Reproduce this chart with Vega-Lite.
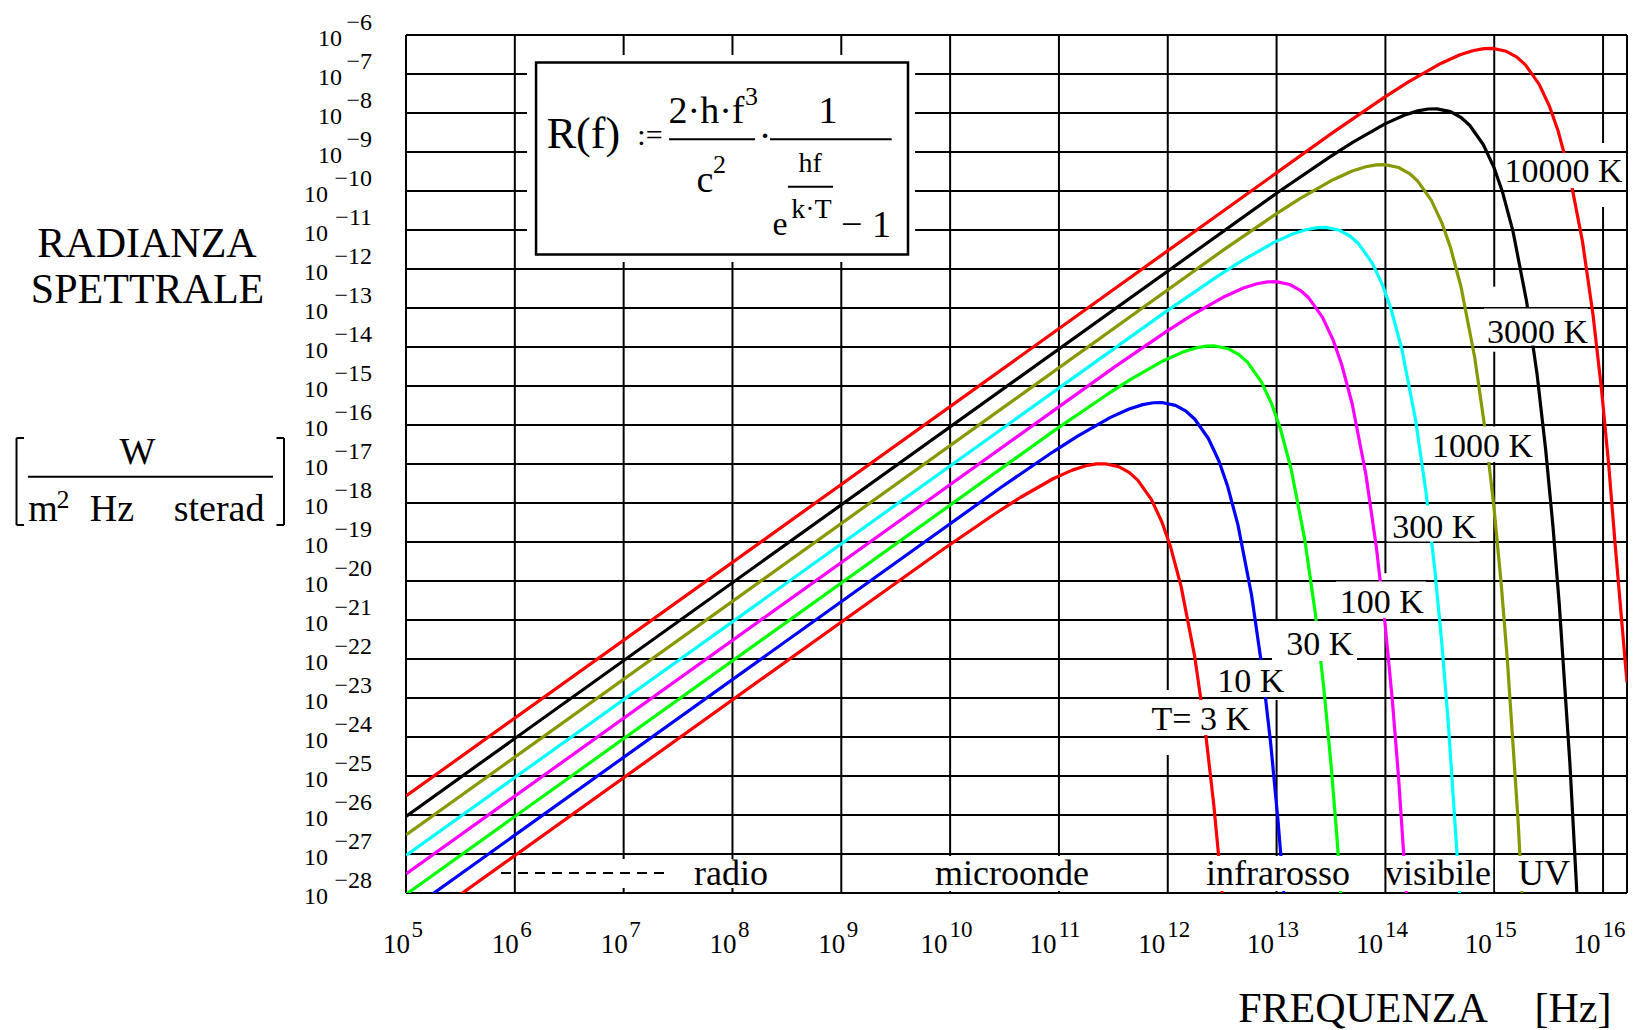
{
"$schema":"https://vega.github.io/schema/vega-lite/v6.json",
"width":1221,"height":858,
"autosize":{"type":"none"},
"padding":{"left":406,"top":35,"right":17,"bottom":137},
"background":"white",
"config":{"view":{"stroke":null},"text":{"font":"Liberation Serif","color":"black"}},
"datasets":{
"curves":[
{"T":3,"f":5,"R":-29.035},{"T":3,"f":9.946,"R":-19.165},{"T":3,"f":10.423,"R":-18.256},{"T":3,"f":10.645,"R":-17.859},{"T":3,"f":10.946,"R":-17.378},{"T":3,"f":11.122,"R":-17.157},{"T":3,"f":11.247,"R":-17.046},{"T":3,"f":11.344,"R":-16.998},{"T":3,"f":11.423,"R":-16.993},{"T":3,"f":11.548,"R":-17.066},{"T":3,"f":11.645,"R":-17.215},{"T":3,"f":11.724,"R":-17.414},{"T":3,"f":11.849,"R":-17.908},{"T":3,"f":11.946,"R":-18.486},{"T":3,"f":12.025,"R":-19.117},{"T":3,"f":12.122,"R":-20.130},{"T":3,"f":12.247,"R":-21.926},{"T":3,"f":12.344,"R":-23.807},{"T":3,"f":12.423,"R":-25.741},{"T":3,"f":12.490,"R":-27.711},{"T":3,"f":12.548,"R":-29.709},
{"T":10,"f":5,"R":-28.513},{"T":10,"f":10.469,"R":-17.597},{"T":10,"f":10.946,"R":-16.687},{"T":10,"f":11.168,"R":-16.290},{"T":10,"f":11.469,"R":-15.810},{"T":10,"f":11.645,"R":-15.588},{"T":10,"f":11.770,"R":-15.477},{"T":10,"f":11.867,"R":-15.429},{"T":10,"f":11.946,"R":-15.424},{"T":10,"f":12.071,"R":-15.498},{"T":10,"f":12.168,"R":-15.646},{"T":10,"f":12.247,"R":-15.845},{"T":10,"f":12.372,"R":-16.340},{"T":10,"f":12.469,"R":-16.918},{"T":10,"f":12.548,"R":-17.549},{"T":10,"f":12.645,"R":-18.561},{"T":10,"f":12.770,"R":-20.358},{"T":10,"f":12.867,"R":-22.238},{"T":10,"f":12.946,"R":-24.172},{"T":10,"f":13.013,"R":-26.143},{"T":10,"f":13.071,"R":-28.140},
{"T":30,"f":5,"R":-28.035},{"T":30,"f":10.956,"R":-16.145},{"T":30,"f":11.433,"R":-15.236},{"T":30,"f":11.655,"R":-14.839},{"T":30,"f":11.956,"R":-14.358},{"T":30,"f":12.132,"R":-14.137},{"T":30,"f":12.257,"R":-14.026},{"T":30,"f":12.354,"R":-13.978},{"T":30,"f":12.433,"R":-13.973},{"T":30,"f":12.558,"R":-14.046},{"T":30,"f":12.655,"R":-14.195},{"T":30,"f":12.734,"R":-14.394},{"T":30,"f":12.859,"R":-14.888},{"T":30,"f":12.956,"R":-15.466},{"T":30,"f":13.035,"R":-16.097},{"T":30,"f":13.132,"R":-17.110},{"T":30,"f":13.257,"R":-18.906},{"T":30,"f":13.354,"R":-20.787},{"T":30,"f":13.433,"R":-22.721},{"T":30,"f":13.500,"R":-24.691},{"T":30,"f":13.558,"R":-26.689},{"T":30,"f":13.655,"R":-30.741},
{"T":100,"f":5,"R":-27.513},{"T":100,"f":11.519,"R":-14.497},{"T":100,"f":11.996,"R":-13.587},{"T":100,"f":12.218,"R":-13.190},{"T":100,"f":12.519,"R":-12.710},{"T":100,"f":12.695,"R":-12.488},{"T":100,"f":12.820,"R":-12.377},{"T":100,"f":12.917,"R":-12.329},{"T":100,"f":12.996,"R":-12.324},{"T":100,"f":13.121,"R":-12.398},{"T":100,"f":13.218,"R":-12.546},{"T":100,"f":13.297,"R":-12.745},{"T":100,"f":13.422,"R":-13.240},{"T":100,"f":13.519,"R":-13.818},{"T":100,"f":13.598,"R":-14.449},{"T":100,"f":13.695,"R":-15.461},{"T":100,"f":13.820,"R":-17.258},{"T":100,"f":13.917,"R":-19.138},{"T":100,"f":13.996,"R":-21.072},{"T":100,"f":14.063,"R":-23.043},{"T":100,"f":14.121,"R":-25.040},{"T":100,"f":14.218,"R":-29.093},
{"T":300,"f":5,"R":-27.035},{"T":300,"f":11.976,"R":-13.105},{"T":300,"f":12.453,"R":-12.196},{"T":300,"f":12.675,"R":-11.799},{"T":300,"f":12.976,"R":-11.318},{"T":300,"f":13.152,"R":-11.097},{"T":300,"f":13.277,"R":-10.986},{"T":300,"f":13.374,"R":-10.938},{"T":300,"f":13.453,"R":-10.933},{"T":300,"f":13.578,"R":-11.006},{"T":300,"f":13.675,"R":-11.155},{"T":300,"f":13.754,"R":-11.354},{"T":300,"f":13.879,"R":-11.848},{"T":300,"f":13.976,"R":-12.426},{"T":300,"f":14.055,"R":-13.057},{"T":300,"f":14.152,"R":-14.070},{"T":300,"f":14.277,"R":-15.866},{"T":300,"f":14.374,"R":-17.747},{"T":300,"f":14.453,"R":-19.681},{"T":300,"f":14.520,"R":-21.651},{"T":300,"f":14.578,"R":-23.649},{"T":300,"f":14.675,"R":-27.701},{"T":300,"f":14.754,"R":-31.807},
{"T":1000,"f":5,"R":-26.513},{"T":1000,"f":12.519,"R":-11.497},{"T":1000,"f":12.996,"R":-10.587},{"T":1000,"f":13.218,"R":-10.190},{"T":1000,"f":13.519,"R":-9.710},{"T":1000,"f":13.695,"R":-9.488},{"T":1000,"f":13.820,"R":-9.377},{"T":1000,"f":13.917,"R":-9.329},{"T":1000,"f":13.996,"R":-9.324},{"T":1000,"f":14.121,"R":-9.398},{"T":1000,"f":14.218,"R":-9.546},{"T":1000,"f":14.297,"R":-9.745},{"T":1000,"f":14.422,"R":-10.240},{"T":1000,"f":14.519,"R":-10.818},{"T":1000,"f":14.598,"R":-11.449},{"T":1000,"f":14.695,"R":-12.461},{"T":1000,"f":14.820,"R":-14.258},{"T":1000,"f":14.917,"R":-16.138},{"T":1000,"f":14.996,"R":-18.072},{"T":1000,"f":15.063,"R":-20.043},{"T":1000,"f":15.121,"R":-22.040},{"T":1000,"f":15.218,"R":-26.093},{"T":1000,"f":15.297,"R":-30.198},
{"T":3000,"f":5,"R":-26.035},{"T":3000,"f":12.996,"R":-10.065},{"T":3000,"f":13.473,"R":-9.156},{"T":3000,"f":13.695,"R":-8.759},{"T":3000,"f":13.996,"R":-8.278},{"T":3000,"f":14.172,"R":-8.057},{"T":3000,"f":14.297,"R":-7.946},{"T":3000,"f":14.394,"R":-7.898},{"T":3000,"f":14.473,"R":-7.893},{"T":3000,"f":14.598,"R":-7.966},{"T":3000,"f":14.695,"R":-8.115},{"T":3000,"f":14.774,"R":-8.314},{"T":3000,"f":14.899,"R":-8.808},{"T":3000,"f":14.996,"R":-9.386},{"T":3000,"f":15.075,"R":-10.017},{"T":3000,"f":15.172,"R":-11.030},{"T":3000,"f":15.297,"R":-12.826},{"T":3000,"f":15.394,"R":-14.707},{"T":3000,"f":15.473,"R":-16.641},{"T":3000,"f":15.540,"R":-18.611},{"T":3000,"f":15.598,"R":-20.609},{"T":3000,"f":15.695,"R":-24.661},{"T":3000,"f":15.774,"R":-28.767},
{"T":10000,"f":5,"R":-25.513},{"T":10000,"f":13.509,"R":-8.517},{"T":10000,"f":13.986,"R":-7.607},{"T":10000,"f":14.208,"R":-7.210},{"T":10000,"f":14.509,"R":-6.730},{"T":10000,"f":14.685,"R":-6.508},{"T":10000,"f":14.810,"R":-6.397},{"T":10000,"f":14.907,"R":-6.349},{"T":10000,"f":14.986,"R":-6.344},{"T":10000,"f":15.111,"R":-6.418},{"T":10000,"f":15.208,"R":-6.566},{"T":10000,"f":15.287,"R":-6.765},{"T":10000,"f":15.412,"R":-7.260},{"T":10000,"f":15.509,"R":-7.838},{"T":10000,"f":15.588,"R":-8.469},{"T":10000,"f":15.685,"R":-9.481},{"T":10000,"f":15.810,"R":-11.278},{"T":10000,"f":15.907,"R":-13.158},{"T":10000,"f":15.986,"R":-15.092},{"T":10000,"f":16.053,"R":-17.063},{"T":10000,"f":16.111,"R":-19.060},{"T":10000,"f":16.22,"R":-22.6}
],
"grid":[
{"x1":5,"x2":5,"y1":-28,"y2":-6},{"x1":6,"x2":6,"y1":-28,"y2":-6},{"x1":7,"x2":7,"y1":-28,"y2":-6},{"x1":8,"x2":8,"y1":-28,"y2":-6},{"x1":9,"x2":9,"y1":-28,"y2":-6},{"x1":10,"x2":10,"y1":-28,"y2":-6},{"x1":11,"x2":11,"y1":-28,"y2":-6},
{"x1":12,"x2":12,"y1":-22.795,"y2":-6},{"x1":12,"x2":12,"y1":-28,"y2":-24.462},
{"x1":13,"x2":13,"y1":-21.205,"y2":-6},{"x1":13,"x2":13,"y1":-28,"y2":-23.051},
{"x1":14,"x2":14,"y1":-19.803,"y2":-6},{"x1":14,"x2":14,"y1":-28,"y2":-21.256},
{"x1":15,"x2":15,"y1":-12.454,"y2":-6},{"x1":15,"x2":15,"y1":-28,"y2":-14.121},
{"x1":16,"x2":16,"y1":-8.769,"y2":-6},{"x1":16,"x2":16,"y1":-28,"y2":-10.410},
{"x1":16.22,"x2":16.22,"y1":-28,"y2":-6},
{"x1":5,"x2":16.22,"y1":-6,"y2":-6},{"x1":5,"x2":16.22,"y1":-7,"y2":-7},{"x1":5,"x2":16.22,"y1":-8,"y2":-8},{"x1":5,"x2":16.22,"y1":-9,"y2":-9},{"x1":5,"x2":16.22,"y1":-10,"y2":-10},{"x1":5,"x2":16.22,"y1":-11,"y2":-11},{"x1":5,"x2":16.22,"y1":-12,"y2":-12},{"x1":5,"x2":16.22,"y1":-13,"y2":-13},{"x1":5,"x2":16.22,"y1":-14,"y2":-14},{"x1":5,"x2":16.22,"y1":-15,"y2":-15},{"x1":5,"x2":16.22,"y1":-16,"y2":-16},{"x1":5,"x2":16.22,"y1":-17,"y2":-17},{"x1":5,"x2":16.22,"y1":-18,"y2":-18},{"x1":5,"x2":16.22,"y1":-19,"y2":-19},{"x1":5,"x2":16.22,"y1":-20,"y2":-20},{"x1":5,"x2":16.22,"y1":-21,"y2":-21},{"x1":5,"x2":16.22,"y1":-22,"y2":-22},{"x1":5,"x2":16.22,"y1":-23,"y2":-23},{"x1":5,"x2":16.22,"y1":-24,"y2":-24},{"x1":5,"x2":16.22,"y1":-25,"y2":-25},{"x1":5,"x2":16.22,"y1":-26,"y2":-26},{"x1":5,"x2":16.22,"y1":-27,"y2":-27},{"x1":5,"x2":16.22,"y1":-28,"y2":-28}
],
"boxes":[
{"x1":15.089,"x2":16.211,"y1":-9.026,"y2":-9.923},
{"x1":14.906,"x2":15.862,"y1":-13.013,"y2":-13.962},
{"x1":14.401,"x2":15.375,"y1":-16.038,"y2":-16.949},
{"x1":14.015,"x2":14.870,"y1":-18.064,"y2":-18.987},
{"x1":13.546,"x2":14.373,"y1":-20.013,"y2":-20.949},
{"x1":12.958,"x2":13.739,"y1":-21.026,"y2":-22.051},
{"x1":12.416,"x2":13.124,"y1":-22.026,"y2":-22.974},
{"x1":11.800,"x2":12.802,"y1":-23.051,"y2":-23.949},
{"x1":6.029,"x2":8.961,"y1":-27.128,"y2":-27.872},
{"x1":9.016,"x2":11.956,"y1":-27.05,"y2":-27.95},
{"x1":12.021,"x2":13.960,"y1":-27.05,"y2":-27.95},
{"x1":14.015,"x2":14.952,"y1":-27.05,"y2":-27.95},
{"x1":15.007,"x2":15.697,"y1":-27.05,"y2":-27.95},
{"x1":6.112,"x2":9.678,"y1":-6.513,"y2":-11.821}
],
"eqframe":[{"x1":6.195,"x2":9.613,"y1":-6.705,"y2":-11.628}],
"segs":[
{"x1":7.417,"x2":8.207,"y1":-8.674,"y2":-8.674},
{"x1":8.345,"x2":9.463,"y1":-8.674,"y2":-8.674},
{"x1":8.510,"x2":8.924,"y1":-9.890,"y2":-9.890},
{"x1":1.526,"x2":3.778,"y1":-17.326,"y2":-17.326},
{"x1":1.421,"x2":1.421,"y1":-16.333,"y2":-18.564},
{"x1":1.421,"x2":1.490,"y1":-16.333,"y2":-16.333},
{"x1":1.421,"x2":1.490,"y1":-18.564,"y2":-18.564},
{"x1":3.879,"x2":3.879,"y1":-16.333,"y2":-18.564},
{"x1":3.810,"x2":3.879,"y1":-16.333,"y2":-16.333},
{"x1":3.810,"x2":3.879,"y1":-18.564,"y2":-18.564}
],
"dash":[{"x1":5.873,"x2":7.371,"y1":-27.487,"y2":-27.487}],
"t44":[{"t":"R(f)","x":6.630,"y":-8.897}],
"t42":[
{"t":"RADIANZA","x":2.620,"y":-11.68},{"t":"SPETTRALE","x":2.625,"y":-12.88},
{"t":"FREQUENZA","x":13.794,"y":-31.308},{"t":"[Hz]","x":15.724,"y":-31.308}
],
"t38":[
{"t":"2·h·f","x":7.761,"y":-8.264},{"t":"c","x":7.748,"y":-10.018},{"t":"·","x":8.299,"y":-8.885},{"t":"1","x":8.878,"y":-8.264},{"t":"− 1","x":9.227,"y":-11.172},
{"t":"W","x":2.533,"y":-16.99},{"t":"m","x":1.664,"y":-18.45},{"t":"Hz","x":2.298,"y":-18.45},{"t":"sterad","x":3.282,"y":-18.45}
],
"t36":[
{"t":"radio","x":7.987,"y":-27.795},{"t":"microonde","x":10.569,"y":-27.795},{"t":"infrarosso","x":13.013,"y":-27.795},{"t":"visibile","x":14.484,"y":-27.795},{"t":"UV","x":15.458,"y":-27.795}
],
"t34":[
{"t":"10000 K","x":15.637,"y":-9.762},{"t":"3000 K","x":15.398,"y":-13.897},{"t":"1000 K","x":14.892,"y":-16.813},{"t":"300 K","x":14.449,"y":-18.905},{"t":"100 K","x":13.966,"y":-20.828},{"t":"30 K","x":13.397,"y":-21.897},{"t":"10 K","x":12.763,"y":-22.846},{"t":"T= 3 K","x":12.304,"y":-23.821},
{"t":"e","x":8.437,"y":-11.128}
],
"t30":[{"t":":=","x":7.242,"y":-8.821}],
"t28":[{"t":"hf","x":8.713,"y":-9.505},{"t":"k·T","x":8.726,"y":-10.692}],
"t26":[{"t":"3","x":8.175,"y":-7.795},{"t":"2","x":7.881,"y":-9.538},{"t":"2","x":1.848,"y":-18.128}],
"xt1":[{"e":5,"s":"5"},{"e":6,"s":"6"},{"e":7,"s":"7"},{"e":8,"s":"8"},{"e":9,"s":"9"}],
"xt2":[{"e":10,"s":"10"},{"e":11,"s":"11"},{"e":12,"s":"12"},{"e":13,"s":"13"},{"e":14,"s":"14"},{"e":15,"s":"15"},{"e":16,"s":"16"}],
"yt1":[{"e":-6,"s":"−6"},{"e":-7,"s":"−7"},{"e":-8,"s":"−8"},{"e":-9,"s":"−9"}],
"yt2":[{"e":-10,"s":"−10"},{"e":-11,"s":"−11"},{"e":-12,"s":"−12"},{"e":-13,"s":"−13"},{"e":-14,"s":"−14"},{"e":-15,"s":"−15"},{"e":-16,"s":"−16"},{"e":-17,"s":"−17"},{"e":-18,"s":"−18"},{"e":-19,"s":"−19"},{"e":-20,"s":"−20"},{"e":-21,"s":"−21"},{"e":-22,"s":"−22"},{"e":-23,"s":"−23"},{"e":-24,"s":"−24"},{"e":-25,"s":"−25"},{"e":-26,"s":"−26"},{"e":-27,"s":"−27"},{"e":-28,"s":"−28"}]
},
"layer":[
{"data":{"name":"grid"},"mark":{"type":"rule","color":"black","strokeWidth":2},
 "encoding":{"x":{"field":"x1","type":"quantitative","scale":{"domain":[5,16.22],"nice":false,"zero":false},"axis":null},"x2":{"field":"x2"},
 "y":{"field":"y1","type":"quantitative","scale":{"domain":[-28,-6],"nice":false,"zero":false},"axis":null},"y2":{"field":"y2"}}},
{"data":{"name":"curves"},"mark":{"type":"line","clip":true,"strokeWidth":3.2,"strokeJoin":"round"},
 "encoding":{"x":{"field":"f","type":"quantitative","scale":{"domain":[5,16.22],"nice":false,"zero":false},"axis":null},
 "y":{"field":"R","type":"quantitative","scale":{"domain":[-28,-6],"nice":false,"zero":false},"axis":null},
 "color":{"field":"T","type":"nominal","scale":{"domain":[3,10,30,100,300,1000,3000,10000],"range":["#ff0000","#0000ff","#00ff00","#ff00ff","#00ffff","#889900","#000000","#ff0000"]},"legend":null}}},
{"data":{"name":"boxes"},"mark":{"type":"rect","fill":"white","strokeWidth":0},
 "encoding":{"x":{"field":"x1","type":"quantitative","scale":{"domain":[5,16.22],"nice":false,"zero":false},"axis":null},"x2":{"field":"x2"},
 "y":{"field":"y1","type":"quantitative","scale":{"domain":[-28,-6],"nice":false,"zero":false},"axis":null},"y2":{"field":"y2"}}},
{"data":{"name":"eqframe"},"mark":{"type":"rect","filled":false,"stroke":"black","strokeWidth":2.5},
 "encoding":{"x":{"field":"x1","type":"quantitative","scale":{"domain":[5,16.22],"nice":false,"zero":false},"axis":null},"x2":{"field":"x2"},
 "y":{"field":"y1","type":"quantitative","scale":{"domain":[-28,-6],"nice":false,"zero":false},"axis":null},"y2":{"field":"y2"}}},
{"data":{"name":"segs"},"mark":{"type":"rule","color":"black","strokeWidth":2},
 "encoding":{"x":{"field":"x1","type":"quantitative","scale":{"domain":[5,16.22],"nice":false,"zero":false},"axis":null},"x2":{"field":"x2"},
 "y":{"field":"y1","type":"quantitative","scale":{"domain":[-28,-6],"nice":false,"zero":false},"axis":null},"y2":{"field":"y2"}}},
{"data":{"name":"dash"},"mark":{"type":"rule","color":"black","strokeWidth":2,"strokeDash":[10,7]},
 "encoding":{"x":{"field":"x1","type":"quantitative","scale":{"domain":[5,16.22],"nice":false,"zero":false},"axis":null},"x2":{"field":"x2"},
 "y":{"field":"y1","type":"quantitative","scale":{"domain":[-28,-6],"nice":false,"zero":false},"axis":null},"y2":{"field":"y2"}}},
{"data":{"name":"t44"},"mark":{"type":"text","fontSize":44,"align":"center","baseline":"alphabetic"},
 "encoding":{"x":{"field":"x","type":"quantitative","scale":{"domain":[5,16.22],"nice":false,"zero":false},"axis":null},"y":{"field":"y","type":"quantitative","scale":{"domain":[-28,-6],"nice":false,"zero":false},"axis":null},"text":{"field":"t"}}},
{"data":{"name":"t42"},"mark":{"type":"text","fontSize":42,"align":"center","baseline":"alphabetic"},
 "encoding":{"x":{"field":"x","type":"quantitative","scale":{"domain":[5,16.22],"nice":false,"zero":false},"axis":null},"y":{"field":"y","type":"quantitative","scale":{"domain":[-28,-6],"nice":false,"zero":false},"axis":null},"text":{"field":"t"}}},
{"data":{"name":"t38"},"mark":{"type":"text","fontSize":38,"align":"center","baseline":"alphabetic"},
 "encoding":{"x":{"field":"x","type":"quantitative","scale":{"domain":[5,16.22],"nice":false,"zero":false},"axis":null},"y":{"field":"y","type":"quantitative","scale":{"domain":[-28,-6],"nice":false,"zero":false},"axis":null},"text":{"field":"t"}}},
{"data":{"name":"t36"},"mark":{"type":"text","fontSize":36,"align":"center","baseline":"alphabetic"},
 "encoding":{"x":{"field":"x","type":"quantitative","scale":{"domain":[5,16.22],"nice":false,"zero":false},"axis":null},"y":{"field":"y","type":"quantitative","scale":{"domain":[-28,-6],"nice":false,"zero":false},"axis":null},"text":{"field":"t"}}},
{"data":{"name":"t34"},"mark":{"type":"text","fontSize":34,"align":"center","baseline":"alphabetic"},
 "encoding":{"x":{"field":"x","type":"quantitative","scale":{"domain":[5,16.22],"nice":false,"zero":false},"axis":null},"y":{"field":"y","type":"quantitative","scale":{"domain":[-28,-6],"nice":false,"zero":false},"axis":null},"text":{"field":"t"}}},
{"data":{"name":"t30"},"mark":{"type":"text","fontSize":30,"align":"center","baseline":"alphabetic"},
 "encoding":{"x":{"field":"x","type":"quantitative","scale":{"domain":[5,16.22],"nice":false,"zero":false},"axis":null},"y":{"field":"y","type":"quantitative","scale":{"domain":[-28,-6],"nice":false,"zero":false},"axis":null},"text":{"field":"t"}}},
{"data":{"name":"t28"},"mark":{"type":"text","fontSize":28,"align":"center","baseline":"alphabetic"},
 "encoding":{"x":{"field":"x","type":"quantitative","scale":{"domain":[5,16.22],"nice":false,"zero":false},"axis":null},"y":{"field":"y","type":"quantitative","scale":{"domain":[-28,-6],"nice":false,"zero":false},"axis":null},"text":{"field":"t"}}},
{"data":{"name":"t26"},"mark":{"type":"text","fontSize":26,"align":"center","baseline":"alphabetic"},
 "encoding":{"x":{"field":"x","type":"quantitative","scale":{"domain":[5,16.22],"nice":false,"zero":false},"axis":null},"y":{"field":"y","type":"quantitative","scale":{"domain":[-28,-6],"nice":false,"zero":false},"axis":null},"text":{"field":"t"}}},
{"data":{"name":"xt1"},"mark":{"type":"text","fontSize":27,"align":"right","baseline":"alphabetic","dx":4,"text":"10"},
 "encoding":{"x":{"field":"e","type":"quantitative","scale":{"domain":[5,16.22],"nice":false,"zero":false},"axis":null},"y":{"datum":-29.538,"type":"quantitative","scale":{"domain":[-28,-6],"nice":false,"zero":false},"axis":null}}},
{"data":{"name":"xt1"},"mark":{"type":"text","fontSize":23,"align":"left","baseline":"alphabetic","dx":5.5},
 "encoding":{"x":{"field":"e","type":"quantitative","scale":{"domain":[5,16.22],"nice":false,"zero":false},"axis":null},"y":{"datum":-29.128,"type":"quantitative","scale":{"domain":[-28,-6],"nice":false,"zero":false},"axis":null},"text":{"field":"s"}}},
{"data":{"name":"xt2"},"mark":{"type":"text","fontSize":27,"align":"right","baseline":"alphabetic","dx":-2.5,"text":"10"},
 "encoding":{"x":{"field":"e","type":"quantitative","scale":{"domain":[5,16.22],"nice":false,"zero":false},"axis":null},"y":{"datum":-29.538,"type":"quantitative","scale":{"domain":[-28,-6],"nice":false,"zero":false},"axis":null}}},
{"data":{"name":"xt2"},"mark":{"type":"text","fontSize":23,"align":"left","baseline":"alphabetic","dx":-0.5},
 "encoding":{"x":{"field":"e","type":"quantitative","scale":{"domain":[5,16.22],"nice":false,"zero":false},"axis":null},"y":{"datum":-29.128,"type":"quantitative","scale":{"domain":[-28,-6],"nice":false,"zero":false},"axis":null},"text":{"field":"s"}}},
{"data":{"name":"yt1"},"mark":{"type":"text","fontSize":24,"align":"right","baseline":"middle","dx":-64,"dy":4,"text":"10"},
 "encoding":{"x":{"datum":5,"type":"quantitative","scale":{"domain":[5,16.22],"nice":false,"zero":false},"axis":null},"y":{"field":"e","type":"quantitative","scale":{"domain":[-28,-6],"nice":false,"zero":false},"axis":null}}},
{"data":{"name":"yt2"},"mark":{"type":"text","fontSize":24,"align":"right","baseline":"middle","dx":-78,"dy":4,"text":"10"},
 "encoding":{"x":{"datum":5,"type":"quantitative","scale":{"domain":[5,16.22],"nice":false,"zero":false},"axis":null},"y":{"field":"e","type":"quantitative","scale":{"domain":[-28,-6],"nice":false,"zero":false},"axis":null}}},
{"data":{"name":"yt1"},"mark":{"type":"text","fontSize":24,"align":"right","baseline":"middle","dx":-34,"dy":-12},
 "encoding":{"x":{"datum":5,"type":"quantitative","scale":{"domain":[5,16.22],"nice":false,"zero":false},"axis":null},"y":{"field":"e","type":"quantitative","scale":{"domain":[-28,-6],"nice":false,"zero":false},"axis":null},"text":{"field":"s"}}},
{"data":{"name":"yt2"},"mark":{"type":"text","fontSize":24,"align":"right","baseline":"middle","dx":-34,"dy":-12},
 "encoding":{"x":{"datum":5,"type":"quantitative","scale":{"domain":[5,16.22],"nice":false,"zero":false},"axis":null},"y":{"field":"e","type":"quantitative","scale":{"domain":[-28,-6],"nice":false,"zero":false},"axis":null},"text":{"field":"s"}}}
]
}
